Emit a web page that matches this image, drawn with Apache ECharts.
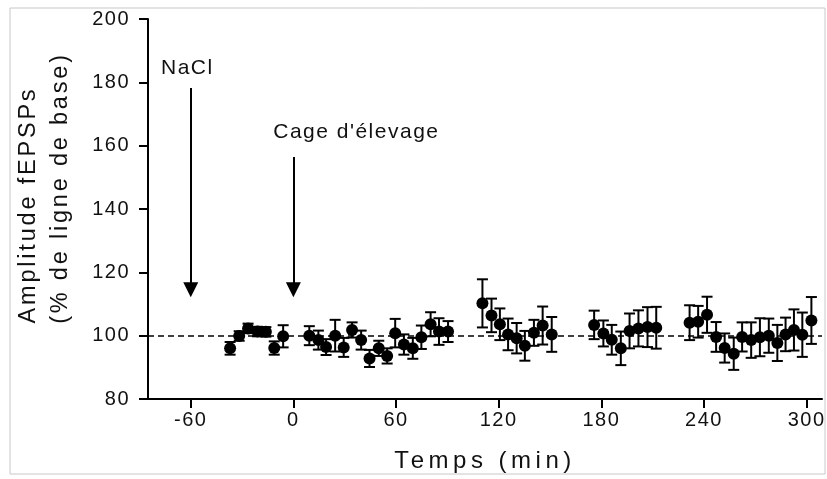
<!DOCTYPE html>
<html><head><meta charset="utf-8">
<script src="https://cdn.jsdelivr.net/npm/echarts/dist/echarts.min.js"></script>
<style>html,body{margin:0;padding:0;background:#fff}#chart{width:827px;height:479px}</style>
</head><body><div id="chart"></div>
<script>
// ---- data ----
const timesMin = [-37.0,-31.7,-26.5,-21.0,-16.1,-11.2,-6.0,
  9.3,14.6,19.1,24.4,29.4,34.3,39.6,44.5,49.9,54.8,59.5,64.6,69.8,74.8,80.2,85.1,90.4,
  110.5,115.8,120.7,125.5,130.5,135.3,140.6,145.7,151.0,
  175.8,181.2,186.1,191.4,196.5,201.7,207.0,212.1,
  231.6,236.6,241.8,247.1,252.1,257.4,262.3,267.6,272.7,277.9,282.9,287.7,292.6,297.5,302.8];
const amplitude = [96.0,99.9,102.3,101.3,101.2,96.1,99.8,
  100.0,98.6,96.4,100.0,96.3,101.8,98.6,92.8,96.0,93.6,100.8,97.2,96.0,99.5,103.6,101.3,101.3,
  110.2,106.4,103.6,100.4,99.2,96.8,100.9,103.2,100.4,
  103.4,100.7,98.7,96.0,101.5,102.3,102.7,102.5,
  104.1,104.4,106.6,99.6,96.1,94.3,99.6,98.6,99.5,100.0,97.7,100.4,101.8,100.3,104.8];
const semErr = [2.0,1.5,1.5,1.5,1.5,2.1,3.5,
  3.0,3.0,2.5,5.0,3.0,2.4,3.0,2.7,2.4,2.4,4.5,3.2,3.3,3.7,3.8,4.2,3.3,
  7.6,5.3,5.0,5.0,4.8,4.7,4.1,6.0,5.5,
  4.5,4.1,4.7,5.3,5.5,5.7,6.3,6.6,
  5.5,5.0,5.7,4.7,4.6,5.1,4.6,5.6,6.0,5.4,5.7,5.3,6.5,7.0,7.4];
const xTickValues = [-60,0,60,120,180,240,300];
const baselineValue = 100;
const eventNames = ["NaCl","Cage d'élevage"];
const eventTimes = [-60, 0];
const eventArrowTop = [178.2, 156.4];
const eventArrowTip = 114.5;
const eventLabelX = [-62, 36.8];
const eventLabelY = [184.5, 164.3];
const xTitle = "Temps (min)";
const yTitle1 = "Amplitude fEPSPs";
const yTitle2 = "(% de ligne de base)";

// letter spacing emulation of the reference's typesetting
(function(){
  const P = CanvasRenderingContext2D.prototype;
  const f = P.fillText;
  const map = {"20":"1.5px","21":"1.5px","24":"4.5px","23.5":"2.8px"};
  P.fillText = function(t,x,y,m){
    const mm = /(\d+(?:\.\d+)?)px/.exec(this.font || "");
    const prev = this.letterSpacing;
    if (mm && map[mm[1]]) this.letterSpacing = map[mm[1]];
    const r = m === undefined ? f.call(this,t,x,y) : f.call(this,t,x,y,m);
    this.letterSpacing = prev;
    return r;
  };
})();

const FONT = "'Liberation Sans', Arial, sans-serif";
const INK = '#000';
const chart = echarts.init(document.getElementById('chart'), null, {renderer:'canvas'});

const pts = timesMin.map((t,i)=>[t, amplitude[i]]);
const bars = timesMin.map((t,i)=>[t, amplitude[i]-semErr[i], amplitude[i]+semErr[i]]);
const arrows = eventTimes.map((t,i)=>({coords:[[t, eventArrowTop[i]],[t, eventArrowTip]]}));
const labels = eventNames.map((n,i)=>[eventLabelX[i], eventLabelY[i], n]);

chart.setOption({
  animation:false,
  backgroundColor:'#fff',
  grid:{left:148, right:5, top:19, bottom:80, containLabel:false},
  xAxis:{
    type:'value', min:-85, max:309,
    name:xTitle, nameLocation:'middle', nameGap:50,
    nameTextStyle:{fontFamily:FONT, fontSize:24, color:'#111'},
    axisLine:{show:true, onZero:false, lineStyle:{color:INK, width:2}},
    axisTick:{show:true, inside:false, length:9, lineStyle:{color:INK, width:2}, customValues:xTickValues},
    axisLabel:{fontFamily:FONT, fontSize:20, color:'#111', margin:11, customValues:xTickValues},
    splitLine:{show:false}
  },
  yAxis:{
    type:'value', min:80, max:200, interval:20,
    axisLine:{show:true, onZero:false, lineStyle:{color:INK, width:2}},
    axisTick:{show:true, inside:false, length:9, lineStyle:{color:INK, width:2}},
    axisLabel:{fontFamily:FONT, fontSize:20, color:'#111', margin:18},
    splitLine:{show:false}
  },
  graphic:[
    {type:'rect', shape:{x:10,y:8,width:815,height:466}, style:{fill:'none', stroke:'#c8c8c8', lineWidth:1}, z:-1},
    {type:'text', x:29, y:205, rotation:Math.PI/2, style:{text:yTitle1, font:"23.5px 'Liberation Sans', Arial, sans-serif", fill:'#111', align:'center', verticalAlign:'middle'}},
    {type:'text', x:61, y:188, rotation:Math.PI/2, style:{text:yTitle2, font:"23.5px 'Liberation Sans', Arial, sans-serif", fill:'#111', align:'center', verticalAlign:'middle'}}
  ],
  series:[
    {
      type:'custom', name:'sem', data:bars, z:3,
      renderItem:function(params, api){
        const x = api.value(0);
        const a = api.coord([x, api.value(1)]);
        const b = api.coord([x, api.value(2)]);
        const hw = 5.5;
        const st = {stroke:INK, lineWidth:2};
        return {type:'group', children:[
          {type:'line', shape:{x1:a[0],y1:a[1],x2:b[0],y2:b[1]}, style:st},
          {type:'line', shape:{x1:a[0]-hw,y1:a[1],x2:a[0]+hw,y2:a[1]}, style:st},
          {type:'line', shape:{x1:b[0]-hw,y1:b[1],x2:b[0]+hw,y2:b[1]}, style:st}
        ]};
      }
    },
    {
      type:'scatter', name:'mean', data:pts, symbol:'circle', symbolSize:12, z:4,
      itemStyle:{color:INK, opacity:1},
      markLine:{silent:true, symbol:'none', label:{show:false},
        lineStyle:{type:[6,4], color:INK, width:1.5},
        data:[{yAxis:baselineValue}]}
    },
    {
      type:'lines', coordinateSystem:'cartesian2d', data:arrows, z:5,
      symbol:['none','triangle'], symbolSize:15,
      lineStyle:{color:INK, width:2, opacity:1}
    },
    {
      type:'scatter', name:'labels', data:labels, symbolSize:1, z:5,
      itemStyle:{color:'rgba(255,255,255,0)', opacity:1},
      label:{show:true, position:'inside', formatter:p=>p.value[2],
        fontFamily:FONT, fontSize:21, color:'#111', opacity:1}
    }
  ]
});
</script></body></html>
